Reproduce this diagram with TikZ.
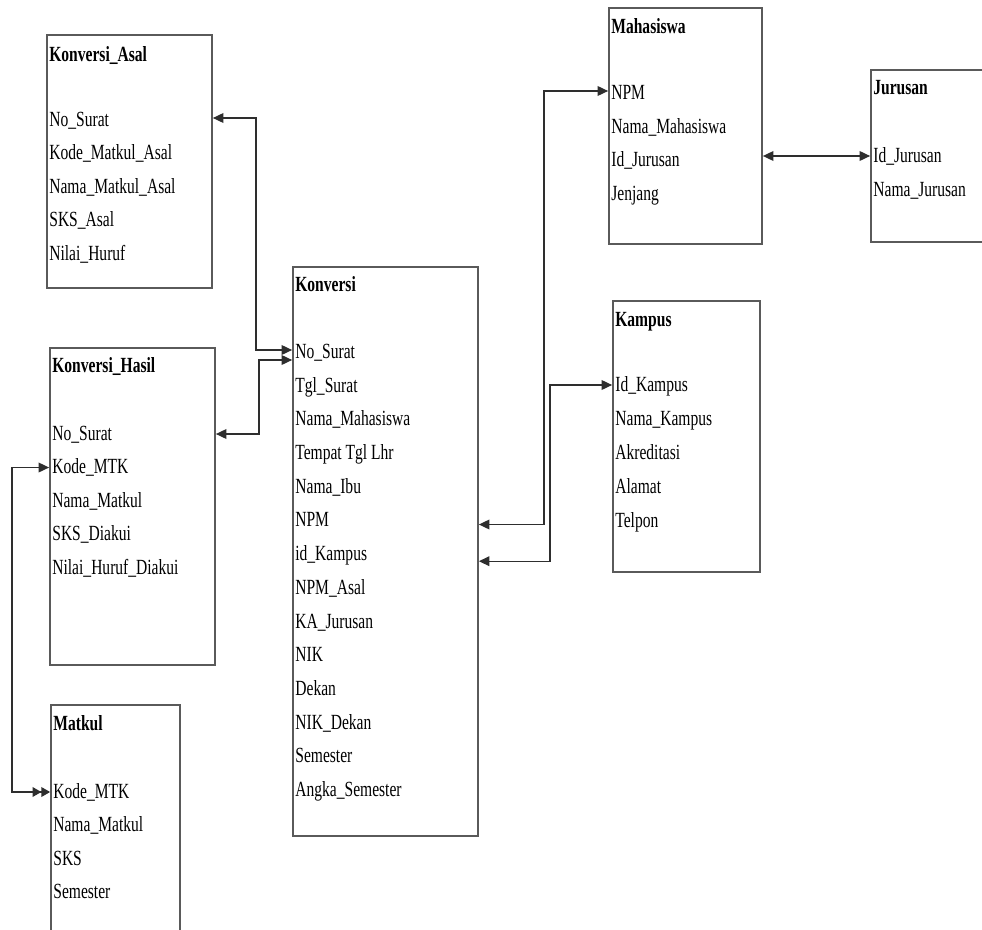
\documentclass[tikz,border=0pt]{standalone}
\usepackage{fontspec}
\setmainfont{Liberation Serif}[FakeStretch=0.72]
\usepackage{tikz}
\usetikzlibrary{arrows.meta,positioning,calc}
\definecolor{boxgray}{HTML}{5A5A5A}
\definecolor{linegray}{HTML}{2E2E2E}
\tikzset{
  tbl/.style={draw=boxgray,line width=1pt,rectangle,inner sep=0pt,fill=white},
  fld/.style={anchor=west,inner xsep=0pt,inner ysep=0pt,font=\fontsize{12.3}{14}\selectfont,text height=1.55ex,text depth=.45ex},
  ttl/.style={fld,font=\fontsize{12.3}{14}\selectfont\bfseries},
  link/.style={draw=linegray,line width=0.8pt,{Triangle[length=6pt,width=5.5pt]}-{Triangle[length=6pt,width=5.5pt]}},
  dbl/.style={link,{Triangle[length=6pt,width=5.5pt]}-{Triangle[length=5pt,width=5.5pt]Triangle[length=5pt,width=5.5pt]}}
}
\begin{document}
\begin{tikzpicture}[x=0.02cm,y=-0.02cm]
\clip (0,0) rectangle (982,929);
\fill[white] (0,0) rectangle (982,929);
% tables
\node[tbl,minimum width=3.3cm,minimum height=5.06cm] (asal) at (129.5,161.5) {};
\node[tbl,minimum width=3.3cm,minimum height=6.34cm] (hasil) at (132.5,506.5) {};
\node[tbl,minimum width=2.58cm,minimum height=4.8cm] (matkul) at (115.5,825) {};
\node[tbl,minimum width=3.7cm,minimum height=11.38cm] (konv) at (385.5,551.5) {};
\node[tbl,minimum width=3.06cm,minimum height=4.72cm] (mhs) at (685.5,126) {};
\node[tbl,minimum width=2.58cm,minimum height=3.44cm] (jur) at (935.5,156) {};
\node[tbl,minimum width=2.94cm,minimum height=5.42cm] (kampus) at (686.5,436.5) {};
% Konversi_Asal
\node[ttl] (asal-t) at (49,57) {Konversi\_Asal};
\foreach \f [count=\i] in {No\_Surat,Kode\_Matkul\_Asal,Nama\_Matkul\_Asal,SKS\_Asal,Nilai\_Huruf}
  \node[fld] (a\i) at (49,{122+33.5*(\i-1)}) {\f};
% Konversi_Hasil
\node[ttl] (hasil-t) at (52,368) {Konversi\_Hasil};
\foreach \f [count=\i] in {No\_Surat,Kode\_MTK,Nama\_Matkul,SKS\_Diakui,Nilai\_Huruf\_Diakui}
  \node[fld] (h\i) at (52,{436+33.5*(\i-1)}) {\f};
% Matkul
\node[ttl] (matkul-t) at (53,726) {Matkul};
\foreach \f [count=\i] in {Kode\_MTK,Nama\_Matkul,SKS,Semester}
  \node[fld] (m\i) at (53,{794+33.4*(\i-1)}) {\f};
% Konversi
\node[ttl] (konv-t) at (295,287) {Konversi};
\foreach \f [count=\i] in {No\_Surat,Tgl\_Surat,Nama\_Mahasiswa,Tempat Tgl Lhr,Nama\_Ibu,NPM,id\_Kampus,NPM\_Asal,KA\_Jurusan,NIK,Dekan,NIK\_Dekan,Semester,Angka\_Semester}
  \node[fld] (k\i) at (295,{354+33.7*(\i-1)}) {\f};
% Mahasiswa
\node[ttl] (mhs-t) at (611,29) {Mahasiswa};
\foreach \f [count=\i] in {NPM,Nama\_Mahasiswa,Id\_Jurusan,Jenjang}
  \node[fld] (s\i) at (611,{95+33.7*(\i-1)}) {\f};
% Jurusan
\node[ttl] (jur-t) at (873,90) {Jurusan};
\foreach \f [count=\i] in {Id\_Jurusan,Nama\_Jurusan}
  \node[fld] (j\i) at (873,{158+34*(\i-1)}) {\f};
% Kampus
\node[ttl] (kampus-t) at (615,322) {Kampus};
\foreach \f [count=\i] in {Id\_Kampus,Nama\_Kampus,Akreditasi,Alamat,Telpon}
  \node[fld] (p\i) at (615,{387+34*(\i-1)}) {\f};
% relations
\draw[link] ($(asal.east |- a1)+(0,-4)$) -- ++(43,0) |- ($(konv.west |- k1)+(0,-4)$);
\draw[link] ($(hasil.east |- h1)+(0,-2)$) -- ++(43,0) |- ($(konv.west |- k1)+(0,6)$);
\draw[dbl] ($(hasil.west |- h2)+(0,-2)$) -- ++(-37,0) |- ($(matkul.west |- m1)+(0,-2)$);
\draw[link] ($(konv.east |- k6)+(0,2)$) -- ++(65,0) |- ($(mhs.west |- s1)+(0,-4)$);
\draw[link] ($(konv.east |- k7)+(0,5)$) -- ++(71,0) |- ($(kampus.west |- p1)+(0,-2)$);
\draw[link] ($(mhs.east |- j1)+(0,-2)$) -- ($(jur.west |- j1)+(0,-2)$);
\end{tikzpicture}
\end{document}
